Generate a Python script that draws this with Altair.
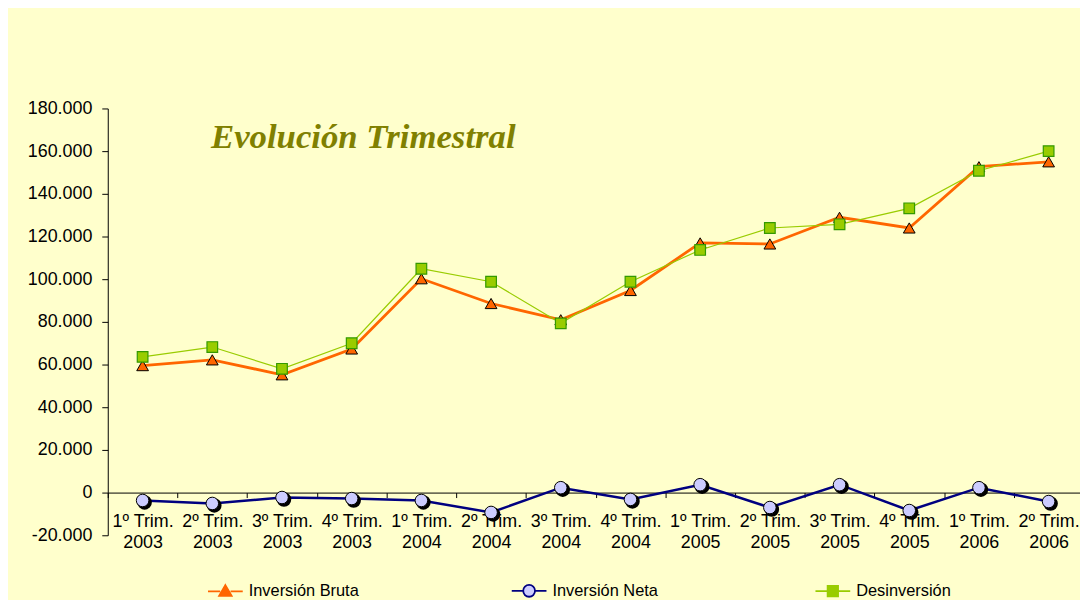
import altair as alt
import pandas as pd

periodos = ["1º Trim.\n2003", "2º Trim.\n2003", "3º Trim.\n2003", "4º Trim.\n2003",
            "1º Trim.\n2004", "2º Trim.\n2004", "3º Trim.\n2004", "4º Trim.\n2004",
            "1º Trim.\n2005", "2º Trim.\n2005", "3º Trim.\n2005", "4º Trim.\n2005",
            "1º Trim.\n2006", "2º Trim.\n2006"]
inversion_bruta = [59500, 62200, 55200, 67300, 100200, 88600, 81000, 94700,
                   117000, 116500, 129000, 124000, 152700, 155000]
inversion_neta = [-3700, -5100, -2300, -2800, -3700, -9300, 2300, -3200,
                  3700, -7000, 3700, -8400, 2300, -4200]
desinversion = [63600, 68200, 58000, 70000, 104900, 98800, 79300, 98800,
                113700, 124000, 125700, 133200, 150800, 160000]
series = ["Inversión Bruta", "Inversión Neta", "Desinversión"]
y_ticks = list(range(-20000, 180001, 20000))
titulo = "Evolución Trimestral"

rows = []
for name, vals in zip(series, [inversion_bruta, inversion_neta, desinversion]):
    for p, v in zip(periodos, vals):
        rows.append({"periodo": p, "serie": name, "valor": v})
df = pd.DataFrame(rows)

PLOT_W = 983
PLOT_H = 430
FONT = "Liberation Sans"

x_enc = alt.X("periodo:N", sort=periodos, bandPosition=0.5,
              scale=alt.Scale(type="band", paddingInner=0, paddingOuter=0, range=[0, PLOT_W]),
              axis=alt.Axis(title=None, labelAngle=0, offset=-43,
                            tickBand="extent", tickSize=5, labelPadding=15,
                            labelExpr="split(datum.label, '\\n')", labelLineHeight=21,
                            labelBaseline="top", labelOverlap=False, labelBound=False,
                            labelFlush=False, labelFontSize=18))
y_enc = alt.Y("valor:Q",
              scale=alt.Scale(domain=[-20000, 180000], nice=False, zero=False),
              axis=alt.Axis(title=None, values=y_ticks, tickSize=6, labelPadding=10,
                            labelFontSize=18,
                            labelExpr="replace(replace(format(datum.value, ','), ',', '.'), '\u2212', '-')"))

base = alt.Chart(df).encode(x=x_enc, y=y_enc)

def sel(name):
    return base.transform_filter(alt.datum.serie == name)

line_bruta = sel(series[0]).mark_line(color="#FF6600", strokeWidth=2.8)
line_neta = sel(series[1]).mark_line(color="#000080", strokeWidth=2.5)
line_desinv = sel(series[2]).mark_line(color="#99CC00", strokeWidth=1.2)

pts_bruta = sel(series[0]).mark_point(shape="triangle-up", filled=True, fill="#FF6600",
                                      stroke="black", strokeWidth=1, size=140, opacity=1)
pts_neta_shadow = sel(series[1]).mark_point(shape="circle", filled=True, fill="black",
                                            stroke="black", size=160, opacity=1,
                                            xOffset=2, yOffset=2)
pts_neta = sel(series[1]).mark_point(shape="circle", filled=True, fill="#CCCCFF",
                                     stroke="black", strokeWidth=1, size=160, opacity=1)
pts_desinv = sel(series[2]).mark_point(shape="square", filled=True, fill="#99CC00",
                                       stroke="#339900", strokeWidth=1.2, size=115, opacity=1)

legend_shapes = [
    "M-1,0L-0.3,0M0.3,0L1,0M0,-0.36L0.36,0.26L-0.36,0.26Z",
    "M-1,0L-0.34,0M0.34,0L1,0M0.34,0A0.34,0.34,0,1,1,-0.34,0A0.34,0.34,0,1,1,0.34,0Z",
    "M-1,0L-0.3,0M0.3,0L1,0M-0.3,-0.3L0.3,-0.3L0.3,0.3L-0.3,0.3Z",
]
legend_layer = alt.Chart(df).mark_point(filled=True, opacity=1).encode(
    fill=alt.Fill("serie:N", scale=alt.Scale(domain=series, range=["#FF6600", "#CCCCFF", "#99CC00"]),
                  legend=alt.Legend(title=None, orient="none", legendX=100, legendY=467,
                                    direction="horizontal", columns=3, gridAlign="all",
                                    columnPadding=150, symbolSize=1225, symbolStrokeWidth=1.8,
                                    labelFontSize=16.5, labelFont=FONT, labelColor="black",
                                    labelOffset=5, padding=0)),
    stroke=alt.Stroke("serie:N", scale=alt.Scale(domain=series, range=["#FF6600", "#000080", "#99CC00"])),
    shape=alt.Shape("serie:N", scale=alt.Scale(domain=series, range=legend_shapes)),
).transform_filter("false")

chart = alt.layer(
    line_bruta, line_neta, line_desinv,
    pts_bruta, pts_neta_shadow, pts_neta, pts_desinv,
    legend_layer,
).properties(
    width=PLOT_W - 3.5,
    height=PLOT_H,
    padding={"left": 100.5, "top": 99, "right": 0, "bottom": 63},
    autosize=alt.AutoSizeParams(type="none"),
    background="#FFFFCC",
    title=alt.TitleParams(titulo, anchor="start", frame="group", dx=104, dy=84,
                          font="Liberation Serif", fontSize=35, fontStyle="italic",
                          fontWeight="bold", color="#808000", baseline="alphabetic", offset=0),
).configure_view(stroke=None).configure_axis(
    domainColor="black", tickColor="black", labelColor="black", grid=False,
    labelFont=FONT, domainWidth=1, tickWidth=1,
)

chart.save("out.html", embed_options={"renderer": "svg", "actions": False})
